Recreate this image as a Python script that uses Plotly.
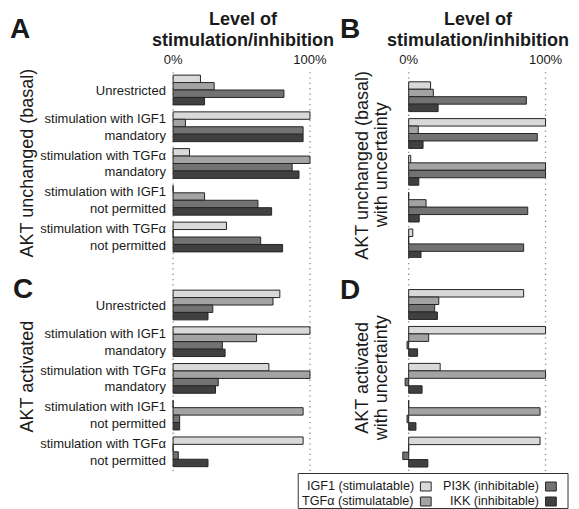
import plotly.graph_objects as go

W, H = 579, 509

categories = [
    "Unrestricted",
    "stimulation with IGF1<br>mandatory",
    "stimulation with TGFα<br>mandatory",
    "stimulation with IGF1<br>not permitted",
    "stimulation with TGFα<br>not permitted",
]
series_names = ["IGF1 (stimulatable)", "TGFα (stimulatable)",
                "PI3K (inhibitable)", "IKK (inhibitable)"]
series_colors = ["#d9d9d9", "#a3a3a3", "#727272", "#404040"]

tick_vals = [0, 1]
tick_text = ["0%", "100%"]

# Panel A: AKT unchanged (basal)
a_igf1 = [0.20, 1.00, 0.12, 0.00, 0.39]
a_tgfa = [0.30, 0.09, 1.00, 0.23, 0.00]
a_pi3k = [0.81, 0.95, 0.87, 0.62, 0.64]
a_ikk = [0.23, 0.95, 0.92, 0.72, 0.80]
# Panel B: AKT unchanged (basal) with uncertainty
b_igf1 = [0.16, 1.00, 0.015, 0.00, 0.03]
b_tgfa = [0.18, 0.07, 1.00, 0.127, 0.00]
b_pi3k = [0.86, 0.94, 1.00, 0.87, 0.84]
b_ikk = [0.215, 0.105, 0.074, 0.077, 0.09]
# Panel C: AKT activated
c_igf1 = [0.78, 1.00, 0.70, 0.00, 0.95]
c_tgfa = [0.73, 0.61, 1.00, 0.95, 0.00]
c_pi3k = [0.29, 0.36, 0.33, 0.048, 0.038]
c_ikk = [0.255, 0.38, 0.31, 0.048, 0.255]
# Panel D: AKT activated with uncertainty
d_igf1 = [0.84, 1.00, 0.23, 0.00, 0.96]
d_tgfa = [0.22, 0.146, 1.00, 0.96, 0.00]
d_pi3k = [0.19, -0.012, -0.026, -0.012, -0.043]
d_ikk = [0.21, 0.065, 0.098, 0.053, 0.14]

panels = [
    ("x", "y", [a_igf1, a_tgfa, a_pi3k, a_ikk]),
    ("x2", "y2", [b_igf1, b_tgfa, b_pi3k, b_ikk]),
    ("x3", "y3", [c_igf1, c_tgfa, c_pi3k, c_ikk]),
    ("x4", "y4", [d_igf1, d_tgfa, d_pi3k, d_ikk]),
]

FONT = "Liberation Sans, Arial, sans-serif"
TXT = "#1a1a1a"


def fx(px):
    return px / W


def fy(py):
    return 1 - py / H


fig = go.Figure()
for xa, ya, vals in panels:
    for name, color, v in zip(series_names, series_colors, vals):
        fig.add_trace(go.Bar(
            x=v, y=categories, orientation="h", name=name,
            marker=dict(color=color, line=dict(color="#262626", width=1)),
            xaxis=xa, yaxis=ya, showlegend=False,
        ))

# geometry (pixels)
ZERO_L, ZERO_R, SCALE = 174.0, 415.0, 140.0
XMIN_L, XMIN_R, XMAX = -0.045, -0.08, 1.05
TOP1, BOT1, TOP2, BOT2 = 68.0, 258.0, 284.0, 470.0


def xdom(zero, xmin):
    return [fx(zero + xmin * SCALE), fx(zero + XMAX * SCALE)]


def yrange(top, bot, c0, sp):
    return [(bot - c0) / sp, (top - c0) / sp]


common_x = dict(showgrid=False, zeroline=False, showline=False, ticks="",
                tickvals=tick_vals, ticktext=tick_text,
                tickfont=dict(size=13, color=TXT, family=FONT), fixedrange=True)
common_y = dict(type="category", categoryorder="array", categoryarray=categories,
                showgrid=False, zeroline=False, showline=False, ticks="",
                tickfont=dict(size=13, color=TXT, family=FONT), fixedrange=True)

fig.update_layout(
    width=W, height=H, margin=dict(l=0, r=0, t=0, b=0),
    paper_bgcolor="white", plot_bgcolor="white",
    barmode="group", bargap=0.19, bargroupgap=0,
    font=dict(family=FONT, color=TXT),
    xaxis=dict(common_x, domain=xdom(ZERO_L, XMIN_L), range=[XMIN_L, XMAX],
               anchor="y", side="top", showticklabels=True),
    xaxis2=dict(common_x, domain=xdom(ZERO_R, XMIN_R), range=[XMIN_R, XMAX],
                anchor="y2", side="top", showticklabels=True),
    xaxis3=dict(common_x, domain=xdom(ZERO_L, XMIN_L), range=[XMIN_L, XMAX],
                anchor="y3", showticklabels=False),
    xaxis4=dict(common_x, domain=xdom(ZERO_R, XMIN_R), range=[XMIN_R, XMAX],
                anchor="y4", showticklabels=False),
    yaxis=dict(common_y, domain=[fy(BOT1), fy(TOP1)],
               range=yrange(TOP1, BOT1, 90.0, 36.75), anchor="x",
               showticklabels=True),
    yaxis2=dict(common_y, domain=[fy(BOT1), fy(TOP1)],
                range=yrange(TOP1, BOT1, 96.7, 36.8), anchor="x2",
                showticklabels=False),
    yaxis3=dict(common_y, domain=[fy(BOT2), fy(TOP2)],
                range=yrange(TOP2, BOT2, 305.0, 36.7), anchor="x3",
                showticklabels=True),
    yaxis4=dict(common_y, domain=[fy(BOT2), fy(TOP2)],
                range=yrange(TOP2, BOT2, 304.5, 36.9), anchor="x4",
                showticklabels=False),
)

shapes = []
# dotted reference lines at 0% and 100%
for xr in ["x", "x2"]:
    for v in tick_vals:
        shapes.append(dict(type="line", xref=xr, yref="paper", x0=v, x1=v,
                           y0=fy(471), y1=fy(TOP1),
                           line=dict(color="#8c8c8c", width=1.3, dash="1.3px,4px"),
                           layer="below"))

annotations = []
# headers
for cx in [246, 486]:
    annotations.append(dict(text="<b>Level of</b>", x=fx(cx), y=fy(19),
                            xref="paper", yref="paper", showarrow=False,
                            font=dict(size=18, color=TXT), xanchor="center",
                            yanchor="middle"))
    annotations.append(dict(text="<b>stimulation/inhibition</b>", x=fx(cx), y=fy(40),
                            xref="paper", yref="paper", showarrow=False,
                            font=dict(size=18, color=TXT), xanchor="center",
                            yanchor="middle"))
# panel letters
for letter, px, py in [("A", 17, 29), ("B", 355, 29), ("C", 20, 288), ("D", 355, 289)]:
    annotations.append(dict(text=f"<b>{letter}</b>", x=fx(px), y=fy(py),
                            xref="paper", yref="paper", showarrow=False,
                            font=dict(size=28, color=TXT), xanchor="center",
                            yanchor="middle"))
# rotated row titles
for txt, px, py in [
    ("AKT unchanged (basal)", 25, 163),
    ("AKT unchanged (basal)", 367, 165),
    ("with uncertainty", 387, 165),
    ("AKT activated", 25, 376),
    ("AKT activated", 367, 378),
    ("with uncertainty", 387, 378),
]:
    annotations.append(dict(text=txt, x=fx(px), y=fy(py), xref="paper", yref="paper",
                            showarrow=False, textangle=-90,
                            font=dict(size=18, color=TXT), xanchor="center",
                            yanchor="middle"))

# legend box
shapes.append(dict(type="rect", xref="paper", yref="paper",
                   x0=fx(302), x1=fx(578), y0=fy(508.5), y1=fy(473.5),
                   line=dict(color="#333333", width=1), fillcolor="white"))
leg_pos = [(422, 486), (422, 501), (550, 486), (550, 501)]
for name, color, (rx, cy) in zip(series_names, series_colors, leg_pos):
    annotations.append(dict(text=name, x=fx(rx), y=fy(cy), xref="paper", yref="paper",
                            showarrow=False, font=dict(size=12.6, color=TXT),
                            xanchor="right", yanchor="middle"))
    shapes.append(dict(type="rect", xref="paper", yref="paper",
                       x0=fx(rx + 5), x1=fx(rx + 16), y0=fy(cy + 5), y1=fy(cy - 4),
                       line=dict(color="#262626", width=1), fillcolor=color))

fig.update_layout(shapes=shapes, annotations=annotations)
fig.write_html("out.html",
               config={"displayModeBar": False},
               post_script="document.body.style.margin='0';"
                           "document.body.style.overflow='hidden';")
